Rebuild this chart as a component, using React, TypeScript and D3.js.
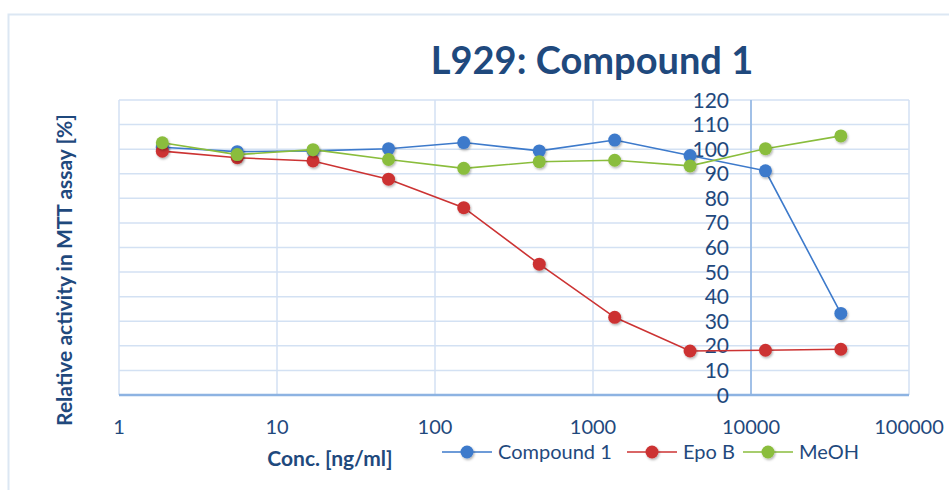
import React from "react";
import * as d3 from "d3";

// concentrations in ng/ml (3-fold dilution series)
const concentrations = [1.88, 5.6, 16.9, 50.8, 152, 457, 1372, 4115, 12346, 37037];
const compound1 = [100.8, 99, 99.3, 100.2, 102.7, 99.3, 103.7, 97.4, 91.2, 33.2];
const epoB = [99.2, 96.5, 95.2, 87.8, 76.2, 53.2, 31.6, 17.9, 18.2, 18.6];
const meoh = [102.6, 97.8, 99.8, 95.8, 92.2, 94.9, 95.5, 93.2, 100.2, 105.4];
const xTicks = [1, 10, 100, 1000, 10000, 100000];
const yTicks = [0, 10, 20, 30, 40, 50, 60, 70, 80, 90, 100, 110, 120];

const series = [
    { name: "Compound 1", values: compound1, color: "#3d7acb" },
    { name: "Epo B", values: epoB, color: "#cc3333" },
    { name: "MeOH", values: meoh, color: "#8abd3c" },
];

const textColor = "#1f497d";
const font = "Lato, 'Open Sans', sans-serif";

export default function App() {
    const width = 949;
    const height = 490;

    const x = d3.scaleLog().domain([1, 100000]).range([119, 909]);
    const y = d3.scaleLinear().domain([0, 120]).range([395, 100]);

    const line = d3.line<number>()
        .x((_, i) => x(concentrations[i]))
        .y(d => y(d));

    const legendX = [442, 627, 743];

    return (
        <div style={{ position: "absolute", left: 0, top: 0 }}>
            <svg width={width} height={height} style={{ display: "block", fontFamily: font }}>
                <defs>
                    <filter id="shadow" x="-50%" y="-50%" width="200%" height="200%">
                        <feDropShadow dx="1" dy="1.5" stdDeviation="1.2" floodColor="#000" floodOpacity="0.3" />
                    </filter>
                </defs>
                <rect x={0} y={0} width={width} height={height} fill="#fff" />
                {/* outer chart frame */}
                <path d={`M8.5,${height} V14.5 H${width}`} fill="none" stroke="#dce7f3" strokeWidth={2} />

                <text x={592} y={74} textAnchor="middle" fontSize={38} fontWeight={700} fill={textColor}>
                    L929: Compound 1
                </text>

                {/* horizontal grid */}
                {yTicks.map(t => (
                    <line key={"h" + t} x1={x(1)} x2={x(100000)} y1={y(t)} y2={y(t)}
                        stroke="#d3e1f3" strokeWidth={1.5} />
                ))}
                {/* vertical grid */}
                {xTicks.map(t => (
                    <line key={"v" + t} x1={x(t)} x2={x(t)} y1={y(120)} y2={y(0)}
                        stroke="#d3e1f3" strokeWidth={1.5} />
                ))}
                {/* y axis crossing at 10000 */}
                <line x1={x(10000)} x2={x(10000)} y1={y(120)} y2={y(0)} stroke="#8db3e2" strokeWidth={1.5} />
                {/* x axis */}
                <line x1={x(1)} x2={x(100000)} y1={y(0)} y2={y(0)} stroke="#8db3e2" strokeWidth={2.5} />

                {yTicks.map(t => (
                    <text key={"yt" + t} x={x(10000) - 22} y={y(t)} dy="0.36em" textAnchor="end"
                        fontSize={21} fill={textColor}>{t}</text>
                ))}
                {xTicks.map(t => (
                    <text key={"xt" + t} x={x(t)} y={427} dy="0.36em" textAnchor="middle"
                        fontSize={20} fill={textColor}>{d3.format("d")(t)}</text>
                ))}

                {series.map(s => (
                    <g key={s.name}>
                        <path d={line(s.values) || ""} fill="none" stroke={s.color} strokeWidth={1.6} />
                        {s.values.map((v, i) => (
                            <circle key={i} cx={x(concentrations[i])} cy={y(v)} r={6.5}
                                fill={s.color} filter="url(#shadow)" />
                        ))}
                    </g>
                ))}

                <text transform="translate(72,270) rotate(-90)" textAnchor="middle" fontSize={21}
                    fontWeight={700} fill={textColor}>
                    Relative activity in MTT assay [%]
                </text>
                <text x={330} y={458} dy="0.36em" textAnchor="middle" fontSize={21} fontWeight={700}
                    fill={textColor}>Conc. [ng/ml]</text>

                {series.map((s, i) => (
                    <g key={"lg" + s.name} transform={`translate(${legendX[i]},452)`}>
                        <line x1={0} x2={50} y1={0} y2={0} stroke={s.color} strokeWidth={1.6} />
                        <circle cx={25} cy={0} r={6.5} fill={s.color} filter="url(#shadow)" />
                        <text x={56} y={0} dy="0.36em" fontSize={20} fill={textColor}>{s.name}</text>
                    </g>
                ))}
            </svg>
        </div>
    );
}
